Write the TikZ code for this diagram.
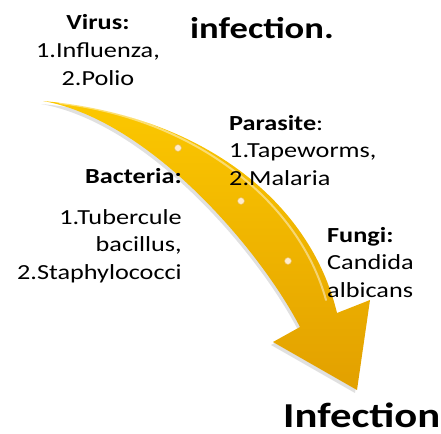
\documentclass[tikz,border=0pt]{standalone}
\usepackage{fontspec}
\setmainfont{Carlito}[FakeStretch=1.22]
\usetikzlibrary{positioning}
\definecolor{gold}{RGB}{252,200,0}
\definecolor{amber}{RGB}{226,160,0}
\definecolor{pearl}{RGB}{255,236,205}

\begin{document}
\begin{tikzpicture}[
    x=1pt, y=1pt,
    label/.style={inner sep=0pt, font=\fontsize{21.5}{27.5}\selectfont},
    heading/.style={inner sep=0pt, font=\fontsize{30}{34}\selectfont\bfseries},
    bead/.style={circle, draw=amber!70!white, fill=pearl, inner sep=0pt, minimum size=7pt, line width=0.6pt},
]
    \useasboundingbox (0,0) rectangle (441,-433);

    % curved arrow, with a soft shadow under it
    \fill[black, opacity=0.12]
        (41,-104) .. controls (198,-118) and (308,-203) .. (335,-316)
        -- (368,-303) -- (355,-393) -- (271,-345) -- (298,-330)
        .. controls (258,-253) and (148,-123) .. cycle;
    \shade[top color=gold, bottom color=amber]
        (43,-101) .. controls (200,-115) and (310,-200) .. (337,-313)
        -- (370,-300) -- (357,-390) -- (273,-342) -- (300,-327)
        .. controls (260,-250) and (150,-120) .. cycle;
    \draw[white, opacity=0.45, line width=2pt, line cap=round]
        (60,-103) .. controls (200,-120) and (300,-205) .. (326,-300);

    \node[bead] (b1) at (178,-148) {};
    \node[bead] (b2) at (241,-201) {};
    \node[bead] (b3) at (288,-261) {};

    \node[label, anchor=base, align=center] (virus) at (98,-85)
        {\textbf{Virus:}\\1.Influenza,\\2.Polio};
    \node[heading, anchor=base west] (title) at (190,-39) {infection.};
    \node[label, anchor=base west, align=left] (parasite) at (229,-185)
        {\textbf{Parasite}:\\1.Tapeworms,\\2.Malaria};
    \node[label, anchor=base east, font=\fontsize{21.5}{27.5}\selectfont\bfseries] (bacteria) at (182,-183) {Bacteria:};
    \node[label, anchor=base east, align=right] (bacterialist) at (182,-279)
        {1.Tubercule\\bacillus,\\2.Staphylococci};
    \node[label, anchor=base west, align=left] (fungi) at (327,-297)
        {\textbf{Fungi:}\\Candida\\albicans};
    \node[heading, anchor=base west, font=\fontsize{35}{40}\selectfont\bfseries] (infection) at (283,-427) {Infection};
\end{tikzpicture}
\end{document}
